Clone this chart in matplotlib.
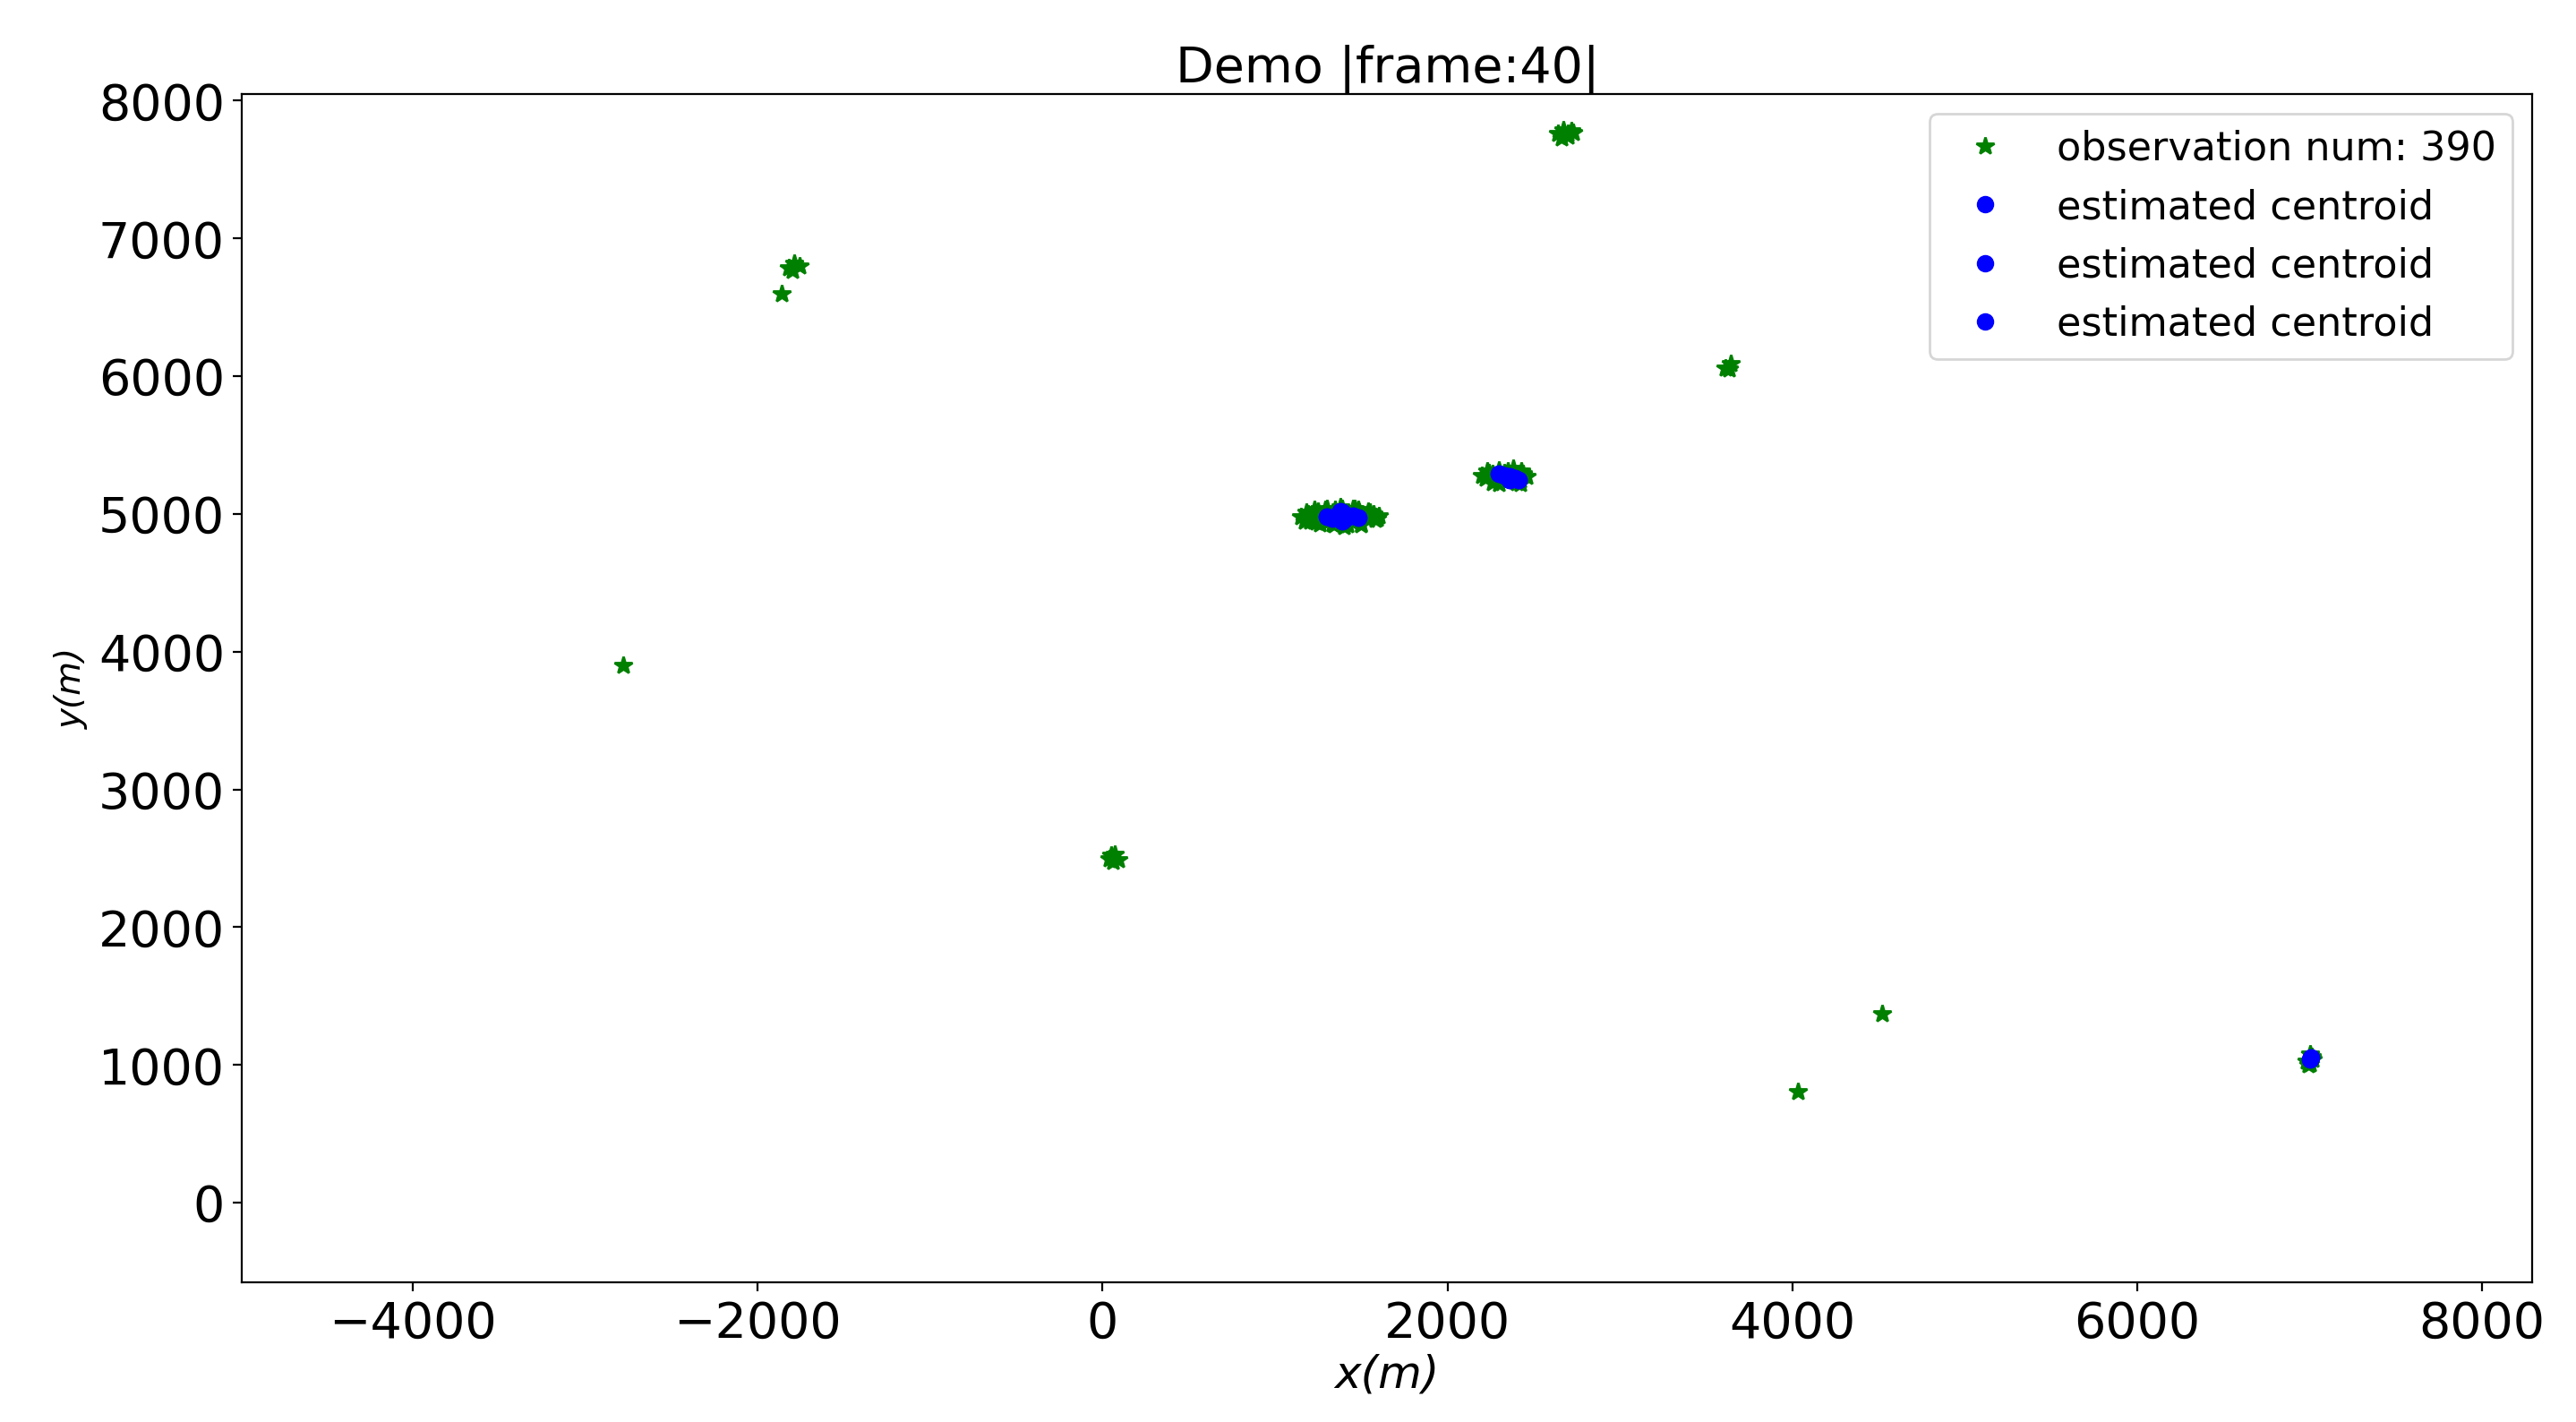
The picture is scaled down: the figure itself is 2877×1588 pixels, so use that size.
import matplotlib
matplotlib.use("Agg")
import matplotlib.pyplot as plt

obs_x = [
    # cluster near (1380, 4980)
    1150, 1180, 1200, 1230, 1260, 1300, 1340, 1380, 1420, 1460, 1500, 1540, 1580, 1600,
    1170, 1210, 1250, 1300, 1350, 1400, 1450, 1500, 1550, 1590,
    1190, 1240, 1290, 1340, 1390, 1440, 1490, 1540, 1570,
    1220, 1280, 1330, 1380, 1430, 1480, 1530,
    1260, 1320, 1380, 1440, 1500,
    # cluster near (2350, 5270)
    2200, 2230, 2260, 2300, 2340, 2380, 2420, 2460, 2220, 2260, 2300, 2350, 2400, 2440,
    2240, 2290, 2340, 2390, 2430, 2280, 2330, 2380, 2420,
    # top cluster
    2640, 2670, 2700, 2730, 2660, 2700, 2720,
    # upper left
    -1820, -1790, -1760, -1800, -1860,
    3610, 3640, 3630,
    -2780,
    40, 70, 90, 60, 50,
    4520, 4030,
    6980, 7000, 7020, 6990, 7010, 7000,
]
obs_y = [
    4980, 5010, 4950, 5030, 4930, 5040, 4920, 5050, 4920, 5040, 4930, 5020, 4960, 4990,
    4950, 5000, 5020, 4940, 5030, 4910, 5040, 4920, 5010, 4970,
    5000, 4940, 5030, 4960, 5040, 4950, 5010, 4960, 5000,
    4970, 5000, 4930, 5020, 4960, 5030, 4980,
    4990, 4960, 5000, 4970, 4990,
    5280, 5310, 5230, 5320, 5240, 5330, 5220, 5270, 5260, 5290, 5220, 5310, 5230, 5290,
    5300, 5250, 5280, 5240, 5310, 5280, 5300, 5260, 5250,
    7760, 7790, 7740, 7770, 7730, 7760, 7780,
    6790, 6820, 6800, 6770, 6600,
    6060, 6090, 6050,
    3900,
    2500, 2530, 2490, 2480, 2520,
    1370, 810,
    1030, 1080, 1040, 1000, 1060, 1010,
]

# estimated centroids (blue dots)
cen_x = [1300, 1330, 1360, 1390, 1420, 1450, 1480, 1390, 1400, 1380,
         2300, 2330, 2360, 2390, 2410, 2360,
         7000, 7005]
cen_y = [4980, 4970, 4990, 5010, 4980, 4990, 4975, 4950, 4960, 5020,
         5290, 5280, 5270, 5260, 5245, 5250,
         1040, 1055]

fig, ax = plt.subplots(figsize=(14.385, 7.94), dpi=200)
ax.plot(obs_x, obs_y, '*', color='green', markersize=7.5, linestyle='none',
        label='observation num: 390')
for i in range(3):
    ax.plot(cen_x, cen_y, 'o', color='blue', markersize=6, linestyle='none',
            label='estimated centroid')

ax.set_xlim(-4990, 8290)
ax.set_ylim(-580, 8050)
ax.set_title('Demo |frame:40|', fontsize=20, pad=4)
ax.set_xlabel('x(m)', fontsize=18, style='italic', labelpad=2)
ax.set_ylabel('y(m)', fontsize=14, style='italic')
ax.tick_params(labelsize=20)
ax.legend(loc='upper right', fontsize=16, borderaxespad=0.5)
plt.subplots_adjust(left=0.094, right=0.983, top=0.934, bottom=0.098)
fig.savefig('out.png')
